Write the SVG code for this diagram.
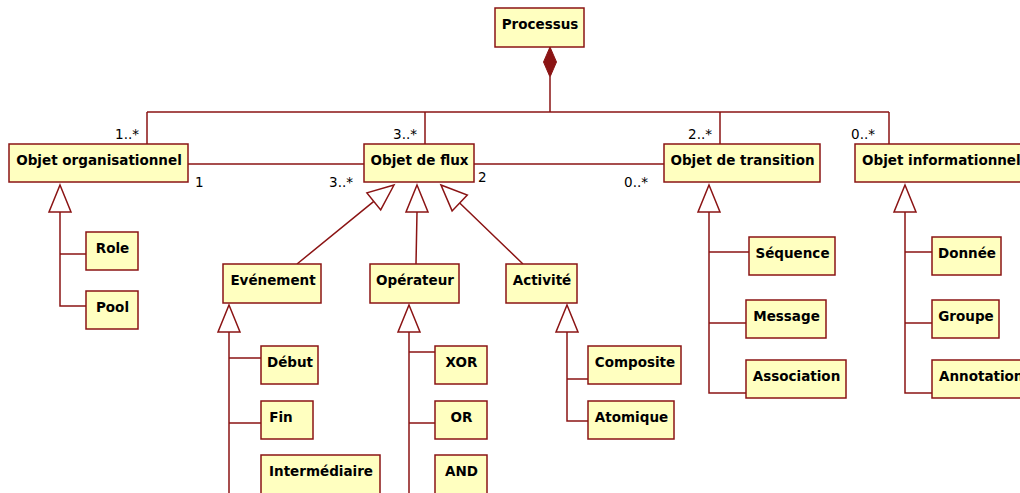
<svg xmlns="http://www.w3.org/2000/svg" width="1020" height="493" viewBox="0 0 1020 493">
<style>
.box{fill:#ffffc0;stroke:#8b1414;stroke-width:1.5}
.lbl{font-family:"DejaVu Sans",Verdana,sans-serif;font-weight:bold;font-size:13.5px;fill:#000;text-anchor:middle}
.lbl.s{text-anchor:start}
.m{font-family:"DejaVu Sans",Verdana,sans-serif;font-size:13.5px;fill:#000}
.e{text-anchor:end}
.ln{fill:none;stroke:#8b1414;stroke-width:1.5}
.tri{fill:#fff;stroke:#8b1414;stroke-width:1.5}
</style>
<rect width="1020" height="493" fill="#fff"/>
<g id="connectors">
  <!-- composition -->
  <polygon points="550,47 556.5,62 550,77 543.5,62" fill="#8b1414" stroke="#8b1414" stroke-width="1"/>
  <path class="ln" d="M550,77 V112 M147,112 H889 M147,112 V144 M425,112 V144 M720,112 V144 M889,112 V144"/>
  <path class="ln" d="M188,164 H364 M474,164 H664"/>
  <!-- generalization Objet organisationnel -->
  <path class="ln" d="M60,212 V306 H86 M60,254 H86"/>
  <polygon class="tri" points="60,185 71,212 49,212"/>
  <!-- Objet de flux -->
  <path class="ln" d="M297,264 L373.8,201.4 M416,264 L417,212 M523,264 L459.7,203"/>
  <polygon class="tri" points="394,185 380.7,209.9 366.9,192.9"/>
  <polygon class="tri" points="417,185 428,212 406,212"/>
  <polygon class="tri" points="441,185 467.3,195.1 452.1,210.9"/>
  <!-- Evenement -->
  <path class="ln" d="M229,332 V493 M229,358 H261 M229,423 H261"/>
  <polygon class="tri" points="229,305 240,332 218,332"/>
  <!-- Operateur -->
  <path class="ln" d="M409,332 V493 M409,352 H435 M409,423 H435"/>
  <polygon class="tri" points="409,305 420,332 398,332"/>
  <!-- Activite -->
  <path class="ln" d="M567,332 V421 H588 M567,379 H588"/>
  <polygon class="tri" points="567,305 578,332 556,332"/>
  <!-- Objet de transition -->
  <path class="ln" d="M709,212 V393 H746 M709,252 H749 M709,323 H746"/>
  <polygon class="tri" points="709,185 720,212 698,212"/>
  <!-- Objet informationnel -->
  <path class="ln" d="M905,212 V393 H932 M905,252 H932 M905,323 H932"/>
  <polygon class="tri" points="905,185 916,212 894,212"/>
  <!-- multiplicities -->
  <text class="m e" x="139" y="139">1..*</text>
  <text class="m" x="195" y="187">1</text>
  <text class="m e" x="417" y="139">3..*</text>
  <text class="m e" x="353" y="187">3..*</text>
  <text class="m" x="478" y="182">2</text>
  <text class="m e" x="712" y="139">2..*</text>
  <text class="m e" x="648" y="187">0..*</text>
  <text class="m e" x="875" y="139">0..*</text>
</g>
<g id="processus"><rect class="box" x="495" y="8" width="89" height="39"/><text class="lbl" x="540" y="29">Processus</text></g>
<g id="objet-organisationnel"><rect class="box" x="9" y="144" width="179" height="38"/><text class="lbl" x="99" y="165">Objet organisationnel</text></g>
<g id="objet-de-flux"><rect class="box" x="364" y="144" width="110" height="38"/><text class="lbl" x="419.5" y="165">Objet de flux</text></g>
<g id="objet-de-transition"><rect class="box" x="664" y="144" width="156" height="38"/><text class="lbl" x="742.5" y="165">Objet de transition</text></g>
<g id="objet-informationnel"><rect class="box" x="855" y="144" width="200" height="38"/><text class="lbl s" x="862" y="165">Objet informationnel</text></g>
<g id="role"><rect class="box" x="86" y="232" width="52" height="38"/><text class="lbl" x="112.5" y="253">Role</text></g>
<g id="pool"><rect class="box" x="86" y="291" width="52" height="38"/><text class="lbl" x="112.5" y="312">Pool</text></g>
<g id="evenement"><rect class="box" x="223" y="264" width="98" height="39"/><text class="lbl" x="273" y="285">Evénement</text></g>
<g id="operateur"><rect class="box" x="370" y="264" width="89" height="39"/><text class="lbl" x="415" y="285">Opérateur</text></g>
<g id="activite"><rect class="box" x="506" y="264" width="71" height="39"/><text class="lbl" x="542" y="285">Activité</text></g>
<g id="debut"><rect class="box" x="261" y="346" width="57" height="38"/><text class="lbl" x="290" y="367">Début</text></g>
<g id="fin"><rect class="box" x="261" y="401" width="52" height="38"/><text class="lbl" x="281" y="422">Fin</text></g>
<g id="intermediaire"><rect class="box" x="261" y="455" width="119" height="45"/><text class="lbl" x="321" y="476">Intermédiaire</text></g>
<g id="xor"><rect class="box" x="435" y="346" width="52" height="38"/><text class="lbl" x="461.5" y="367">XOR</text></g>
<g id="or"><rect class="box" x="435" y="401" width="52" height="38"/><text class="lbl" x="461.5" y="422">OR</text></g>
<g id="and"><rect class="box" x="435" y="455" width="52" height="45"/><text class="lbl" x="461.5" y="476">AND</text></g>
<g id="composite"><rect class="box" x="588" y="346" width="93" height="38"/><text class="lbl" x="635" y="367">Composite</text></g>
<g id="atomique"><rect class="box" x="588" y="401" width="86" height="38"/><text class="lbl" x="631.5" y="422">Atomique</text></g>
<g id="sequence"><rect class="box" x="749" y="237" width="86" height="38"/><text class="lbl" x="792.5" y="258">Séquence</text></g>
<g id="message"><rect class="box" x="746" y="300" width="80" height="38"/><text class="lbl" x="786.5" y="321">Message</text></g>
<g id="association"><rect class="box" x="746" y="360" width="100" height="38"/><text class="lbl" x="796.5" y="381">Association</text></g>
<g id="donnee"><rect class="box" x="932" y="237" width="69" height="38"/><text class="lbl" x="967" y="258">Donnée</text></g>
<g id="groupe"><rect class="box" x="932" y="300" width="67" height="38"/><text class="lbl" x="966" y="321">Groupe</text></g>
<g id="annotation"><rect class="box" x="932" y="360" width="120" height="38"/><text class="lbl s" x="939" y="381">Annotation</text></g>
</svg>
